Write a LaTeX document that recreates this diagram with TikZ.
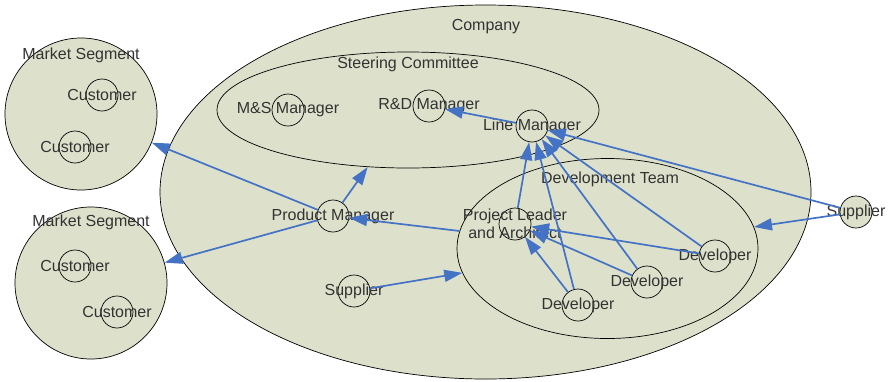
\documentclass[tikz,border=0pt]{standalone}
\usepackage{fontspec}
\setmainfont{Liberation Sans}
\usepackage{tikz}
\usetikzlibrary{arrows.meta,positioning,shapes.geometric}
\definecolor{verdefondo}{HTML}{DDE1CB}
\definecolor{azulflecha}{HTML}{4472C4}
\definecolor{gristexto}{HTML}{333333}

\begin{document}
\begin{tikzpicture}[
    x=1pt, y=-1pt,
    every node/.style={font=\fontsize{16}{18.5}\selectfont, text=gristexto},
    grupo/.style={draw=black, line width=0.7pt, fill=verdefondo, inner sep=0pt},
    area/.style={grupo, ellipse},
    segmento/.style={grupo, circle, minimum size=152pt},
    rol/.style={circle, draw=black, line width=0.7pt, minimum size=32pt, inner sep=0pt},
    flecha/.style={-{Triangle[length=18pt,width=12pt]}, line width=1.7pt, draw=azulflecha}
  ]
    \useasboundingbox (0,0) rectangle (888,381);

    % contenedores
    \node[area, minimum width=651pt, minimum height=374pt] (company) at (485.5,192) {};
    \node[area, fill=none, minimum width=382pt, minimum height=116pt] (steering) at (408,110) {};
    \node[area, fill=none, minimum width=301pt, minimum height=180pt] (devteam) at (607.5,248.5) {};
    \node[segmento] (seg1) at (81,114) {};
    \node[segmento] (seg2) at (91,283) {};

    \node (companylbl) at (486,27) {Company};
    \node (steeringlbl) at (408,64) {Steering Committee};
    \node (devteamlbl) at (610,179) {Development Team};
    \node (seg1lbl) at (81,55) {Market Segment};
    \node (seg2lbl) at (91,222) {Market Segment};

    % roles
    \node[rol, label={center:Customer}] (cust1) at (102,95) {};
    \node[rol, label={center:Customer}] (cust2) at (75,147) {};
    \node[rol, label={center:Customer}] (cust3) at (75,266) {};
    \node[rol, label={center:Customer}] (cust4) at (117,312) {};
    \node[rol, label={center:M\&S Manager}] (msmgr) at (288,110) {};
    \node[rol, label={center:R\&D Manager}] (rdmgr) at (429,106) {};
    \node[rol, label={center:Line Manager}] (linemgr) at (532,126) {};
    \node[rol, label={center:Product Manager}] (prodmgr) at (333,216) {};
    \node[rol, label={center:Supplier}] (supin) at (354,291) {};
    \node[rol, label={[align=center]center:Project Leader\\and Architect}] (leader) at (515,224) {};
    \node[rol, label={center:Developer}] (dev1) at (578,305) {};
    \node[rol, label={center:Developer}] (dev2) at (647,282) {};
    \node[rol, label={center:Developer}] (dev3) at (715,256) {};
    \node[rol, fill=verdefondo, label={center:Supplier}] (supout) at (856,212) {};

    % relaciones
    \draw[flecha] (linemgr) -- (rdmgr);
    \draw[flecha] (leader) -- (linemgr);
    \draw[flecha] (dev1) -- (linemgr);
    \draw[flecha] (dev2) -- (linemgr);
    \draw[flecha] (dev3) -- (linemgr);
    \draw[flecha] (supout) -- (linemgr);
    \draw[flecha] (supout) -- (devteam);
    \draw[flecha] (dev1) -- (leader);
    \draw[flecha] (dev2) -- (leader);
    \draw[flecha] (dev3) -- (leader);
    \draw[flecha] (devteam) -- (prodmgr);
    \draw[flecha] (supin) -- (devteam);
    \draw[flecha] (prodmgr) -- (steering);
    \draw[flecha] (prodmgr) -- (seg1);
    \draw[flecha] (prodmgr) -- (seg2);
  \end{tikzpicture}
\end{document}
